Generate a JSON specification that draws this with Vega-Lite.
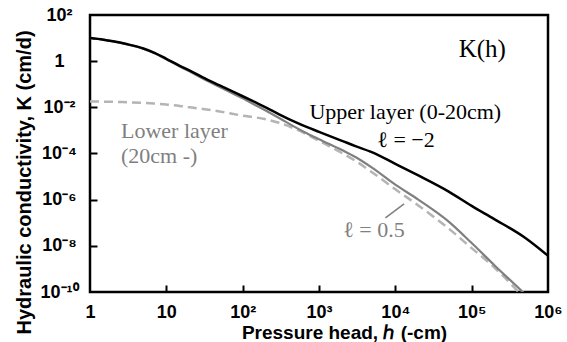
{
  "$schema": "https://vega.github.io/schema/vega-lite/v6.json",
  "width": 458,
  "height": 277,
  "autosize": "none",
  "padding": {"left": 90, "top": 15, "right": 19, "bottom": 50},
  "background": "white",
  "config": {
    "view": {"stroke": "black", "strokeWidth": 2.5},
    "axis": {
      "grid": false,
      "domain": false,
      "tickColor": "black",
      "tickWidth": 2,
      "labelFont": "Liberation Sans",
      "labelFontWeight": "bold",
      "labelFontSize": 18,
      "labelColor": "black",
      "titleFont": "Liberation Sans",
      "titleFontWeight": "bold",
      "titleFontSize": 19,
      "titleColor": "black"
    }
  },
  "resolve": {"axis": {"x": "independent", "y": "independent"}},
  "datasets": {
    "upper": [
      {"h": 1, "K": 10},
      {"h": 1.5, "K": 8.51},
      {"h": 2, "K": 7.24},
      {"h": 3, "K": 5.5},
      {"h": 5, "K": 3.55},
      {"h": 7, "K": 2.29},
      {"h": 10, "K": 1.26},
      {"h": 15, "K": 0.631},
      {"h": 20, "K": 0.398},
      {"h": 30, "K": 0.2},
      {"h": 50, "K": 0.0891},
      {"h": 70, "K": 0.0525},
      {"h": 100, "K": 0.0302},
      {"h": 150, "K": 0.0158},
      {"h": 200, "K": 0.01},
      {"h": 300, "K": 0.00501},
      {"h": 500, "K": 0.00224},
      {"h": 700, "K": 0.00138},
      {"h": 1000, "K": 0.000871},
      {"h": 2000, "K": 0.000355},
      {"h": 3000, "K": 0.000209},
      {"h": 5000, "K": 0.000112},
      {"h": 10000, "K": 0.0000355},
      {"h": 20000, "K": 0.0000112},
      {"h": 50000, "K": 0.00000224},
      {"h": 100000, "K": 5.37e-7},
      {"h": 200000, "K": 1.41e-7},
      {"h": 500000, "K": 2.24e-8},
      {"h": 1000000, "K": 3.72e-9}
    ],
    "upperL05": [
      {"h": 1, "K": 10},
      {"h": 1.5, "K": 8.51},
      {"h": 2, "K": 7.24},
      {"h": 3, "K": 5.5},
      {"h": 5, "K": 3.47},
      {"h": 7, "K": 2.19},
      {"h": 10, "K": 1.2},
      {"h": 15, "K": 0.589},
      {"h": 20, "K": 0.363},
      {"h": 30, "K": 0.178},
      {"h": 50, "K": 0.0759},
      {"h": 70, "K": 0.0437},
      {"h": 100, "K": 0.0245},
      {"h": 150, "K": 0.012},
      {"h": 200, "K": 0.00724},
      {"h": 300, "K": 0.00347},
      {"h": 500, "K": 0.00132},
      {"h": 700, "K": 0.000741},
      {"h": 1000, "K": 0.000417},
      {"h": 2000, "K": 0.000141},
      {"h": 3000, "K": 0.0000708},
      {"h": 5000, "K": 0.000024},
      {"h": 10000, "K": 0.00000447},
      {"h": 20000, "K": 0.000001},
      {"h": 50000, "K": 1.12e-7},
      {"h": 100000, "K": 1.32e-8},
      {"h": 200000, "K": 1.41e-9},
      {"h": 500000, "K": 7.94e-11},
      {"h": 1000000, "K": 7.94e-12}
    ],
    "lower": [
      {"h": 1, "K": 0.0178},
      {"h": 1.5, "K": 0.0176},
      {"h": 2, "K": 0.0174},
      {"h": 3, "K": 0.0166},
      {"h": 5, "K": 0.0155},
      {"h": 7, "K": 0.0145},
      {"h": 10, "K": 0.0132},
      {"h": 15, "K": 0.0115},
      {"h": 20, "K": 0.01},
      {"h": 30, "K": 0.00851},
      {"h": 50, "K": 0.00661},
      {"h": 70, "K": 0.00537},
      {"h": 100, "K": 0.00437},
      {"h": 150, "K": 0.00363},
      {"h": 200, "K": 0.00302},
      {"h": 300, "K": 0.00214},
      {"h": 500, "K": 0.00112},
      {"h": 700, "K": 0.000661},
      {"h": 1000, "K": 0.000355},
      {"h": 2000, "K": 0.000105},
      {"h": 3000, "K": 0.0000479},
      {"h": 5000, "K": 0.0000151},
      {"h": 10000, "K": 0.00000282},
      {"h": 20000, "K": 5.62e-7},
      {"h": 50000, "K": 5.62e-8},
      {"h": 100000, "K": 7.94e-9},
      {"h": 200000, "K": 1.12e-9},
      {"h": 500000, "K": 5.01e-11},
      {"h": 1000000, "K": 3.98e-12}
    ],
    "titleText": [{"h": 138000, "K": 1.51, "label": "K(h)"}],
    "blackText": [
      {"h": 13500, "K": 0.00316, "label": "Upper layer (0-20cm)"},
      {"h": 13800, "K": 0.000195, "label": "ℓ = −2"}
    ],
    "grayLeftText": [
      {"h": 2.55, "K": 0.000479, "label": "Lower layer"},
      {"h": 2.55, "K": 0.0000389, "label": "(20cm -)"}
    ],
    "grayCenterText": [{"h": 5250, "K": 2.45e-8, "label": "ℓ = 0.5"}],
    "pointer": [{"h": 7410, "K": 1.62e-7, "h2": 13030, "K2": 6.61e-7}]
  },
  "encoding": {
    "x": {
      "field": "h",
      "type": "quantitative",
      "scale": {"type": "log", "domain": [1, 1000000], "nice": false},
      "axis": null
    },
    "y": {
      "field": "K",
      "type": "quantitative",
      "scale": {"type": "log", "domain": [1e-10, 100], "nice": false},
      "axis": null
    }
  },
  "layer": [
    {
      "data": {"name": "lower"},
      "mark": {"type": "line", "clip": true, "color": "#b4b4b4", "strokeWidth": 2.5, "strokeDash": [9, 5], "interpolate": "monotone"},
      "encoding": {
        "x": {
          "field": "h",
          "type": "quantitative",
          "scale": {"type": "log", "domain": [1, 1000000], "nice": false},
          "axis": {
            "orient": "bottom",
            "ticks": false,
            "values": [1, 10, 100, 1000, 10000, 100000, 1000000],
            "labelExpr": "round(log(datum.value)/LN10) == 0 ? '1' : round(log(datum.value)/LN10) == 1 ? '10' : round(log(datum.value)/LN10) == 2 ? '10²' : round(log(datum.value)/LN10) == 3 ? '10³' : round(log(datum.value)/LN10) == 4 ? '10⁴' : round(log(datum.value)/LN10) == 5 ? '10⁵' : '10⁶'",
            "labelPadding": 11,
            "labelBaseline": "top",
            "labelFlush": false,
            "title": "Pressure head, ℎ (-cm)",
            "titleX": 254,
            "titleY": 46,
            "titleBaseline": "alphabetic"
          }
        },
        "y": {
          "field": "K",
          "type": "quantitative",
          "scale": {"type": "log", "domain": [1e-10, 100], "nice": false},
          "axis": {
            "orient": "left",
            "ticks": false,
            "values": [100, 1, 0.01, 0.0001, 0.000001, 1e-8, 1e-10],
            "labelExpr": "round(log(datum.value)/LN10) == 2 ? '10²' : round(log(datum.value)/LN10) == 0 ? '1' : round(log(datum.value)/LN10) == -2 ? '10⁻²' : round(log(datum.value)/LN10) == -4 ? '10⁻⁴' : round(log(datum.value)/LN10) == -6 ? '10⁻⁶' : round(log(datum.value)/LN10) == -8 ? '10⁻⁸' : '10⁻¹⁰'",
            "labelAlign": "center",
            "labelBaseline": "middle",
            "labelPadding": 31,
            "labelFlush": false,
            "title": "Hydraulic conductivity, K (cm/d)",
            "titleFontSize": 20,
            "titleX": -66,
            "titleY": 167,
            "titleBaseline": "middle",
            "titleAlign": "center"
          }
        }
      }
    },
    {
      "data": {"name": "upperL05"},
      "mark": {"type": "line", "clip": true, "color": "#7f7f7f", "strokeWidth": 2.2, "interpolate": "monotone"},
      "encoding": {
        "x": {
          "field": "h",
          "type": "quantitative",
          "scale": {"type": "log", "domain": [1, 1000000], "nice": false},
          "axis": {
            "orient": "top",
            "offset": -277,
            "values": [10, 100, 1000, 10000, 100000],
            "ticks": true,
            "tickSize": 7,
            "tickColor": "black",
            "tickWidth": 2,
            "labels": false,
            "title": null
          }
        },
        "y": {
          "field": "K",
          "type": "quantitative",
          "scale": {"type": "log", "domain": [1e-10, 100], "nice": false},
          "axis": {
            "orient": "right",
            "offset": -458,
            "values": [1, 0.01, 0.0001, 0.000001, 1e-8],
            "ticks": true,
            "tickSize": 7,
            "tickColor": "black",
            "tickWidth": 2,
            "labels": false,
            "title": null
          }
        }
      }
    },
    {
      "data": {"name": "upper"},
      "mark": {"type": "line", "clip": true, "color": "#000000", "strokeWidth": 2.5, "interpolate": "monotone"}
    },
    {
      "data": {"name": "pointer"},
      "mark": {"type": "rule", "color": "#7f7f7f", "strokeWidth": 1.5},
      "encoding": {
        "x2": {"field": "h2"},
        "y2": {"field": "K2"}
      }
    },
    {
      "data": {"name": "titleText"},
      "mark": {"type": "text", "font": "Liberation Serif", "fontSize": 25, "align": "center", "baseline": "alphabetic", "color": "black"},
      "encoding": {"text": {"field": "label"}}
    },
    {
      "data": {"name": "blackText"},
      "mark": {"type": "text", "font": "Liberation Serif", "fontSize": 22, "align": "center", "baseline": "alphabetic", "color": "black"},
      "encoding": {"text": {"field": "label"}}
    },
    {
      "data": {"name": "grayLeftText"},
      "mark": {"type": "text", "font": "Liberation Serif", "fontSize": 22, "align": "left", "baseline": "alphabetic", "color": "#7f7f7f"},
      "encoding": {"text": {"field": "label"}}
    },
    {
      "data": {"name": "grayCenterText"},
      "mark": {"type": "text", "font": "Liberation Serif", "fontSize": 22, "align": "center", "baseline": "alphabetic", "color": "#7f7f7f"},
      "encoding": {"text": {"field": "label"}}
    }
  ]
}
